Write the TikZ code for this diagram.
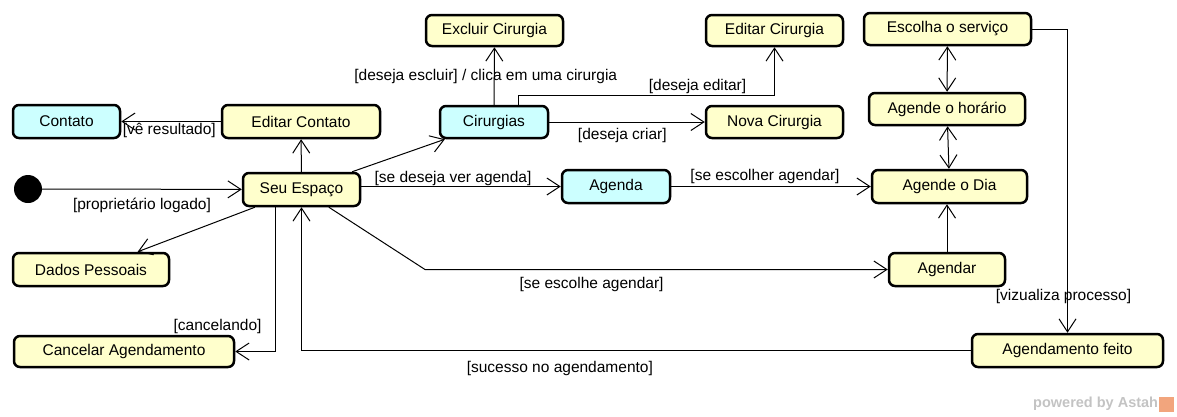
\documentclass[tikz,border=0pt]{standalone}
\usepackage{fontspec}
\setmainfont{Liberation Sans}
\usetikzlibrary{arrows.meta,positioning,calc}
\definecolor{softyellow}{RGB}{255,255,204}
\definecolor{softcyan}{RGB}{204,255,255}
\definecolor{wmgray}{RGB}{195,195,195}
\definecolor{wmorange}{RGB}{242,165,125}

\begin{document}
\begin{tikzpicture}[x=1pt,y=-1pt, every node/.style={font=\fontsize{15.5}{18}\selectfont},
    st/.style={draw,line width=2.5pt,fill=softyellow,rounded corners=6pt,minimum height=33pt,inner sep=0pt},
    stc/.style={st,fill=softcyan},
    lbl/.style={inner sep=2pt},
    arr/.style={line width=1pt,-{Straight Barb[length=13pt,width=17pt]}},
    arrs/.style={line width=1pt,{Straight Barb[length=13pt,width=17pt]}-{Straight Barb[length=13pt,width=17pt]}}]
    \useasboundingbox (0,0) rectangle (1177,416);
    \node[stc,minimum width=107pt] (contato) at (66.5,121.5) {Contato};
    \node[st,minimum width=158pt] (edcont) at (301,121.5) {Editar Contato};
    \node[circle,fill=black,minimum size=28pt,inner sep=0pt] (init) at (28,189) {};
    \node[st,minimum width=117pt] (seu) at (301.5,189.5) {Seu Espaço};
    \node[stc,minimum width=108pt,minimum height=32pt] (cir) at (494,122) {Cirurgias};
    \node[st,minimum width=137pt,minimum height=31pt] (exc) at (494.5,30.5) {Excluir Cirurgia};
    \node[st,minimum width=137pt,minimum height=31pt] (edcir) at (774.5,30.5) {Editar Cirurgia};
    \node[st,minimum width=137pt,minimum height=32pt] (nova) at (774.5,122) {Nova Cirurgia};
    \node[st,minimum width=167pt,minimum height=32pt] (escolha) at (947.5,29) {Escolha o serviço};
    \node[st,minimum width=156pt,minimum height=32pt] (horario) at (947,109) {Agende o horário};
    \node[st,minimum width=155pt] (dia) at (949.5,186.5) {Agende o Dia};
    \node[stc,minimum width=108pt] (agenda) at (616,186.5) {Agenda};
    \node[st,minimum width=116pt] (agendar) at (947,269.5) {Agendar};
    \node[st,minimum width=191pt] (feito) at (1067.5,350.5) {Agendamento feito};
    \node[st,minimum width=156pt] (dados) at (91,269.5) {Dados Pessoais};
    \node[st,minimum width=220pt,minimum height=31pt] (cancelar) at (124,351.5) {Cancelar Agendamento};
    \coordinate (k1) at (425,269.5);
    \foreach \a/\b in {seu/edcont,seu/cir,seu/dados}{\draw[arr] (\a)--(\b);}
    \draw[arr] (init) -- node[lbl,below=6pt]{[proprietário logado]} (seu);
    \draw[arr] (edcont) -- node[lbl,anchor=north west,pos=1,inner sep=1pt]{[vê resultado]} (contato);
    \draw[arr] (cir) -- node[lbl,xshift=-8.5pt]{[deseja escluir] / clica em uma cirurgia} (exc);
    \draw[arr] ($(cir.north)+(24,0)$) -- ++(0,-9) -| node[lbl,above,pos=0.35]{[deseja editar]} (edcir);
    \draw[arr] (cir) -- node[lbl,below=4pt,pos=0.47]{[deseja criar]} (nova);
    \draw[arr] (seu.east |- agenda) -- node[lbl,above,pos=0.46,inner sep=0pt]{[se deseja ver agenda]} (agenda);
    \draw[arr] (agenda) -- node[lbl,above,pos=0.47]{[se escolher agendar]} (dia);
    \draw[arrs] (escolha) -- (horario);
    \draw[arrs] (horario) -- (dia);
    \draw[arr] (agendar.north) -- (agendar.north |- dia.south);
    \draw[arr] (seu) -- (k1) -- node[lbl,below=5pt,pos=0.36]{[se escolhe agendar]} (agendar);
    \draw[arr] (escolha) -| node[lbl,pos=0.94,xshift=-4pt]{[vizualiza processo]} (feito);
    \draw[arr] (feito) -| node[lbl,below=8pt,pos=0.307]{[sucesso no agendamento]} (seu);
    \draw[arr] ($(seu.south)+(-26.5,0)$) |- node[lbl,anchor=south east,pos=0.5,xshift=-11pt,yshift=15pt]{[cancelando]} (cancelar);
    \node[text=wmgray,font=\fontsize{14.5}{17}\selectfont\bfseries,anchor=west,inner sep=0pt] (wm) at (1033,404) {powered by Astah};
    \node[fill=wmorange,minimum size=15pt,inner sep=0pt,right=0pt of wm] (wmlogo) {};
  \end{tikzpicture}
\end{document}
